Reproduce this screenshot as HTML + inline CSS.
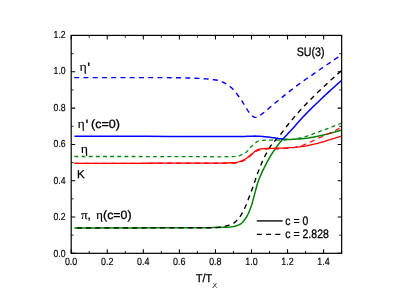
<!DOCTYPE html>
<html><head><meta charset="utf-8"><style>html,body{margin:0;padding:0;background:#fff;overflow:hidden}svg{display:block;will-change:transform}</style></head><body>
<svg width="397" height="304" viewBox="0 0 397 304">
<rect width="397" height="304" fill="#fff"/>
<clipPath id="c"><rect x="71.2" y="35.4" width="270.45" height="217.9"/></clipPath>
<g clip-path="url(#c)" fill="none" stroke-linejoin="round">
<path d="M74.40,227.90 L95.33,227.90 L116.27,227.89 L137.20,227.88 L158.13,227.86 L179.07,227.84 L200.00,227.80 L202.50,227.78 L205.00,227.75 L207.50,227.69 L210.00,227.63 L212.50,227.56 L215.00,227.50 L217.52,227.44 L220.03,227.38 L222.55,227.32 L225.07,227.24 L227.58,227.14 L230.10,227.00 L231.68,226.84 L233.27,226.57 L234.85,226.20 L236.43,225.72 L238.02,225.15 L239.60,224.50 L240.70,223.87 L241.80,222.97 L242.90,221.85 L244.00,220.53 L245.10,219.07 L246.20,217.50 L246.98,216.23 L247.77,214.73 L248.55,213.04 L249.33,211.18 L250.12,209.19 L250.90,207.10 L251.53,205.24 L252.17,203.16 L252.80,200.91 L253.43,198.58 L254.07,196.22 L254.70,193.90 L255.17,192.16 L255.63,190.35 L256.10,188.51 L256.57,186.72 L257.03,185.03 L257.50,183.50 L257.98,182.08 L258.47,180.74 L258.95,179.49 L259.43,178.29 L259.92,177.13 L260.40,176.00 L261.65,173.15 L262.90,170.42 L264.15,167.81 L265.40,165.30 L266.65,162.90 L267.90,160.60 L269.17,158.36 L270.43,156.20 L271.70,154.13 L272.97,152.14 L274.23,150.23 L275.50,148.40 L276.75,146.66 L278.00,144.97 L279.25,143.35 L280.50,141.80 L281.75,140.31 L283.00,138.90 L284.17,139.03 L285.33,139.15 L286.50,139.25 L287.67,139.33 L288.83,139.38 L290.00,139.40 L292.32,139.36 L294.63,139.26 L296.95,139.11 L299.27,138.92 L301.58,138.71 L303.90,138.50 L306.20,138.25 L308.50,137.94 L310.80,137.57 L313.10,137.17 L315.40,136.74 L317.70,136.30 L320.02,135.82 L322.33,135.29 L324.65,134.72 L326.97,134.13 L329.28,133.51 L331.60,132.90 L333.25,132.46 L334.90,132.01 L336.55,131.54 L338.20,131.07 L339.85,130.59 L341.50,130.10" stroke="#008000" stroke-width="1.5"/>
<path d="M74.40,227.90 L95.33,227.90 L116.27,227.89 L137.20,227.88 L158.13,227.86 L179.07,227.84 L200.00,227.80 L202.50,227.79 L205.00,227.77 L207.50,227.75 L210.00,227.71 L212.50,227.66 L215.00,227.60 L216.27,227.53 L217.53,227.41 L218.80,227.24 L220.07,227.04 L221.33,226.82 L222.60,226.60 L224.17,226.32 L225.73,226.00 L227.30,225.64 L228.87,225.21 L230.43,224.70 L232.00,224.10 L233.10,223.54 L234.20,222.79 L235.30,221.89 L236.40,220.86 L237.50,219.72 L238.60,218.50 L239.55,217.31 L240.50,215.92 L241.45,214.37 L242.40,212.67 L243.35,210.87 L244.30,209.00 L245.25,206.97 L246.20,204.73 L247.15,202.33 L248.10,199.84 L249.05,197.31 L250.00,194.80 L250.63,193.14 L251.27,191.47 L251.90,189.78 L252.53,188.05 L253.17,186.30 L253.80,184.50 L254.27,183.12 L254.73,181.67 L255.20,180.21 L255.67,178.75 L256.13,177.33 L256.60,176.00 L257.85,172.62 L259.10,169.36 L260.35,166.23 L261.60,163.24 L262.85,160.43 L264.10,157.80 L265.37,155.28 L266.63,152.87 L267.90,150.58 L269.17,148.42 L270.43,146.43 L271.70,144.60 L272.97,142.97 L274.23,141.51 L275.50,140.15 L276.77,138.82 L278.03,137.46 L279.30,136.00 L280.90,134.00 L282.50,131.91 L284.10,129.77 L285.70,127.62 L287.30,125.52 L288.90,123.50 L291.27,120.63 L293.63,117.83 L296.00,115.09 L298.37,112.40 L300.73,109.77 L303.10,107.20 L305.47,104.68 L307.83,102.22 L310.20,99.81 L312.57,97.44 L314.93,95.11 L317.30,92.80 L320.92,89.32 L324.53,85.90 L328.15,82.54 L331.77,79.23 L335.38,75.99 L339.00,72.80 L339.43,72.42 L339.87,72.05 L340.30,71.69 L340.73,71.33 L341.17,70.96 L341.60,70.60" stroke="#000" stroke-width="1.4" stroke-dasharray="5.0 4.25" stroke-dashoffset="-2.4"/>
<path d="M74.40,163.45 L87.00,163.42 L99.60,163.39 L112.20,163.35 L124.80,163.32 L137.40,163.29 L150.00,163.25 L158.33,163.22 L166.67,163.19 L175.00,163.16 L183.33,163.13 L191.67,163.11 L200.00,163.10 L202.50,163.10 L205.00,163.10 L207.50,163.10 L210.00,163.10 L212.50,163.10 L215.00,163.10 L218.25,163.09 L221.50,163.05 L224.75,162.98 L228.00,162.88 L231.25,162.75 L234.50,162.60 L236.12,162.42 L237.73,162.09 L239.35,161.62 L240.97,161.04 L242.58,160.39 L244.20,159.70 L245.45,159.02 L246.70,158.14 L247.95,157.11 L249.20,156.03 L250.45,154.97 L251.70,154.00 L252.80,153.15 L253.90,152.25 L255.00,151.36 L256.10,150.55 L257.20,149.91 L258.30,149.50 L259.58,149.21 L260.87,148.96 L262.15,148.75 L263.43,148.58 L264.72,148.46 L266.00,148.40 L268.33,148.35 L270.67,148.31 L273.00,148.29 L275.33,148.27 L277.67,148.24 L280.00,148.20 L281.67,148.15 L283.33,148.09 L285.00,148.00 L286.67,147.91 L288.33,147.81 L290.00,147.70 L292.32,147.54 L294.63,147.34 L296.95,147.13 L299.27,146.88 L301.58,146.60 L303.90,146.30 L306.20,145.94 L308.50,145.50 L310.80,144.99 L313.10,144.45 L315.40,143.88 L317.70,143.30 L320.02,142.69 L322.33,142.03 L324.65,141.34 L326.97,140.63 L329.28,139.91 L331.60,139.20 L333.25,138.70 L334.90,138.19 L336.55,137.67 L338.20,137.15 L339.85,136.63 L341.50,136.10" stroke="#f00" stroke-width="1.3"/>
<path d="M74.40,163.45 L87.00,163.42 L99.60,163.39 L112.20,163.35 L124.80,163.32 L137.40,163.29 L150.00,163.25 L158.33,163.22 L166.67,163.19 L175.00,163.16 L183.33,163.13 L191.67,163.11 L200.00,163.10 L202.50,163.10 L205.00,163.11 L207.50,163.12 L210.00,163.13 L212.50,163.14 L215.00,163.15 L218.25,163.16 L221.50,163.17 L224.75,163.18 L228.00,163.19 L231.25,163.20 L234.50,163.20 L236.12,163.09 L237.73,162.80 L239.35,162.35 L240.97,161.79 L242.58,161.16 L244.20,160.50 L245.45,159.85 L246.70,158.99 L247.95,157.99 L249.20,156.92 L250.45,155.87 L251.70,154.90 L252.80,154.05 L253.90,153.13 L255.00,152.22 L256.10,151.39 L257.20,150.73 L258.30,150.30 L259.58,149.99 L260.87,149.72 L262.15,149.49 L263.43,149.31 L264.72,149.18 L266.00,149.10 L268.33,149.02 L270.67,148.97 L273.00,148.94 L275.33,148.91 L277.67,148.87 L280.00,148.80 L281.67,148.73 L283.33,148.62 L285.00,148.49 L286.67,148.35 L288.33,148.18 L290.00,148.00 L291.67,147.80 L293.33,147.55 L295.00,147.27 L296.67,146.95 L298.33,146.60 L300.00,146.20 L301.30,145.83 L302.60,145.38 L303.90,144.87 L305.20,144.32 L306.50,143.76 L307.80,143.20 L309.45,142.48 L311.10,141.73 L312.75,140.95 L314.40,140.16 L316.05,139.37 L317.70,138.60 L320.02,137.53 L322.33,136.48 L324.65,135.42 L326.97,134.36 L329.28,133.29 L331.60,132.20 L333.25,131.42 L334.90,130.62 L336.55,129.83 L338.20,129.02 L339.85,128.21 L341.50,127.40" stroke="#f00" stroke-width="1.2" stroke-dasharray="5.0 4.25"/>
<path d="M74.40,156.50 L95.33,156.50 L116.27,156.51 L137.20,156.52 L158.13,156.54 L179.07,156.56 L200.00,156.60 L202.82,156.62 L205.63,156.66 L208.45,156.70 L211.27,156.75 L214.08,156.79 L216.90,156.80 L220.00,156.79 L223.10,156.76 L226.20,156.70 L229.30,156.63 L232.40,156.53 L235.50,156.40 L237.08,156.22 L238.67,155.85 L240.25,155.32 L241.83,154.67 L243.42,153.91 L245.00,153.10 L246.25,152.22 L247.50,151.01 L248.75,149.59 L250.00,148.11 L251.25,146.70 L252.50,145.50 L253.57,144.57 L254.63,143.60 L255.70,142.67 L256.77,141.86 L257.83,141.25 L258.90,140.90 L260.08,140.70 L261.27,140.53 L262.45,140.39 L263.63,140.29 L264.82,140.22 L266.00,140.20 L268.33,140.20 L270.67,140.20 L273.00,140.20 L275.33,140.20 L277.67,140.20 L280.00,140.20 L281.67,140.18 L283.33,140.11 L285.00,140.01 L286.67,139.89 L288.33,139.75 L290.00,139.60 L292.32,139.34 L294.63,138.99 L296.95,138.57 L299.27,138.08 L301.58,137.56 L303.90,137.00 L306.20,136.37 L308.50,135.63 L310.80,134.80 L313.10,133.93 L315.40,133.05 L317.70,132.20 L320.02,131.36 L322.33,130.51 L324.65,129.64 L326.97,128.77 L329.28,127.89 L331.60,127.00 L333.25,126.36 L334.90,125.72 L336.55,125.07 L338.20,124.42 L339.85,123.76 L341.50,123.10" stroke="#0c860c" stroke-width="1.3" stroke-dasharray="3.9 3.25"/>
<path d="M74.50,136.30 L97.92,136.31 L121.33,136.33 L144.75,136.36 L168.17,136.40 L191.58,136.45 L215.00,136.50 L219.17,136.51 L223.33,136.53 L227.50,136.56 L231.67,136.58 L235.83,136.59 L240.00,136.60 L242.50,136.56 L245.00,136.47 L247.50,136.35 L250.00,136.23 L252.50,136.14 L255.00,136.10 L257.50,136.15 L260.00,136.29 L262.50,136.50 L265.00,136.75 L267.50,137.02 L270.00,137.30 L271.23,137.45 L272.47,137.64 L273.70,137.84 L274.93,138.04 L276.17,138.23 L277.40,138.40 L278.33,138.51 L279.27,138.62 L280.20,138.72 L281.13,138.82 L282.07,138.91 L283.00,139.00 L284.62,137.15 L286.23,135.40 L287.85,133.65 L289.47,131.90 L291.08,130.15 L292.70,128.40 L295.22,125.65 L297.73,122.87 L300.25,120.09 L302.77,117.33 L305.28,114.63 L307.80,112.00 L310.17,109.60 L312.53,107.26 L314.90,104.96 L317.27,102.69 L319.63,100.44 L322.00,98.20 L323.42,96.86 L324.83,95.53 L326.25,94.21 L327.67,92.90 L329.08,91.59 L330.50,90.30 L332.35,88.62 L334.20,86.95 L336.05,85.29 L337.90,83.65 L339.75,82.02 L341.60,80.40" stroke="#00f" stroke-width="1.5"/>
<path d="M74.20,77.60 L86.83,77.60 L99.47,77.60 L112.10,77.60 L124.73,77.60 L137.37,77.60 L150.00,77.60 L155.00,77.61 L160.00,77.63 L165.00,77.66 L170.00,77.70 L175.00,77.75 L180.00,77.80 L182.50,77.84 L185.00,77.89 L187.50,77.95 L190.00,78.03 L192.50,78.11 L195.00,78.20 L196.47,78.26 L197.93,78.33 L199.40,78.41 L200.87,78.50 L202.33,78.60 L203.80,78.70 L205.83,78.85 L207.87,79.02 L209.90,79.21 L211.93,79.43 L213.97,79.69 L216.00,80.00 L217.27,80.25 L218.53,80.59 L219.80,80.99 L221.07,81.45 L222.33,81.96 L223.60,82.50 L224.87,83.12 L226.13,83.84 L227.40,84.66 L228.67,85.57 L229.93,86.55 L231.20,87.60 L232.53,88.84 L233.87,90.26 L235.20,91.82 L236.53,93.49 L237.87,95.23 L239.20,97.00 L240.13,98.29 L241.07,99.67 L242.00,101.10 L242.93,102.56 L243.87,104.04 L244.80,105.50 L245.60,106.79 L246.40,108.14 L247.20,109.50 L248.00,110.82 L248.80,112.04 L249.60,113.10 L250.17,113.78 L250.73,114.45 L251.30,115.07 L251.87,115.64 L252.43,116.12 L253.00,116.50 L253.37,116.71 L253.73,116.92 L254.10,117.11 L254.47,117.26 L254.83,117.36 L255.20,117.40 L255.58,117.38 L255.97,117.34 L256.35,117.28 L256.73,117.19 L257.12,117.10 L257.50,117.00 L258.23,116.72 L258.97,116.29 L259.70,115.76 L260.43,115.17 L261.17,114.57 L261.90,114.00 L263.32,112.92 L264.73,111.78 L266.15,110.59 L267.57,109.39 L268.98,108.19 L270.40,107.00 L272.28,105.43 L274.17,103.85 L276.05,102.27 L277.93,100.69 L279.82,99.13 L281.70,97.60 L284.75,95.15 L287.80,92.73 L290.85,90.33 L293.90,87.98 L296.95,85.66 L300.00,83.40 L301.93,82.00 L303.87,80.64 L305.80,79.29 L307.73,77.96 L309.67,76.63 L311.60,75.30 L316.32,72.04 L321.03,68.78 L325.75,65.54 L330.47,62.32 L335.18,59.14 L339.90,56.00 L340.18,55.81 L340.47,55.63 L340.75,55.45 L341.03,55.26 L341.32,55.08 L341.60,54.90" stroke="#00f" stroke-width="1.4" stroke-dasharray="5.0 4.25"/>
</g>
<rect x="71.2" y="35.4" width="270.45" height="217.9" fill="none" stroke="#000" stroke-width="1.2"/>
<path d="M71.20,253.3 v-4 M71.20,35.4 v4 M107.26,253.3 v-4 M107.26,35.4 v4 M143.32,253.3 v-4 M143.32,35.4 v4 M179.38,253.3 v-4 M179.38,35.4 v4 M215.44,253.3 v-4 M215.44,35.4 v4 M251.50,253.3 v-4 M251.50,35.4 v4 M287.56,253.3 v-4 M287.56,35.4 v4 M323.62,253.3 v-4 M323.62,35.4 v4 M71.2,253.30 h4 M341.65,253.30 h-4 M71.2,217.00 h4 M341.65,217.00 h-4 M71.2,180.70 h4 M341.65,180.70 h-4 M71.2,144.40 h4 M341.65,144.40 h-4 M71.2,108.10 h4 M341.65,108.10 h-4 M71.2,71.80 h4 M341.65,71.80 h-4 M71.2,35.50 h4 M341.65,35.50 h-4" stroke="#000" stroke-width="1.05" fill="none"/>
<path d="M89.23,253.3 v-2.4 M89.23,35.4 v2.4 M125.29,253.3 v-2.4 M125.29,35.4 v2.4 M161.35,253.3 v-2.4 M161.35,35.4 v2.4 M197.41,253.3 v-2.4 M197.41,35.4 v2.4 M233.47,253.3 v-2.4 M233.47,35.4 v2.4 M269.53,253.3 v-2.4 M269.53,35.4 v2.4 M305.59,253.3 v-2.4 M305.59,35.4 v2.4 M341.65,253.3 v-2.4 M341.65,35.4 v2.4 M71.2,235.15 h2.4 M341.65,235.15 h-2.4 M71.2,198.85 h2.4 M341.65,198.85 h-2.4 M71.2,162.55 h2.4 M341.65,162.55 h-2.4 M71.2,126.25 h2.4 M341.65,126.25 h-2.4 M71.2,89.95 h2.4 M341.65,89.95 h-2.4 M71.2,53.65 h2.4 M341.65,53.65 h-2.4" stroke="#000" stroke-width="0.85" fill="none"/>
<g transform="rotate(0.02)" style="text-rendering:geometricPrecision">
<text x="65.0" y="265.2" font-size="10.4" style="font-family:&quot;Liberation Sans&quot;,sans-serif" textLength="12.4" lengthAdjust="spacingAndGlyphs" stroke="#000" stroke-width="0.18">0.0</text>
<text x="101.06" y="265.2" font-size="10.4" style="font-family:&quot;Liberation Sans&quot;,sans-serif" textLength="12.4" lengthAdjust="spacingAndGlyphs" stroke="#000" stroke-width="0.18">0.2</text>
<text x="137.12" y="265.2" font-size="10.4" style="font-family:&quot;Liberation Sans&quot;,sans-serif" textLength="12.4" lengthAdjust="spacingAndGlyphs" stroke="#000" stroke-width="0.18">0.4</text>
<text x="173.18" y="265.2" font-size="10.4" style="font-family:&quot;Liberation Sans&quot;,sans-serif" textLength="12.4" lengthAdjust="spacingAndGlyphs" stroke="#000" stroke-width="0.18">0.6</text>
<text x="209.24" y="265.2" font-size="10.4" style="font-family:&quot;Liberation Sans&quot;,sans-serif" textLength="12.4" lengthAdjust="spacingAndGlyphs" stroke="#000" stroke-width="0.18">0.8</text>
<text x="245.3" y="265.2" font-size="10.4" style="font-family:&quot;Liberation Sans&quot;,sans-serif" textLength="12.4" lengthAdjust="spacingAndGlyphs" stroke="#000" stroke-width="0.18">1.0</text>
<text x="281.36" y="265.2" font-size="10.4" style="font-family:&quot;Liberation Sans&quot;,sans-serif" textLength="12.4" lengthAdjust="spacingAndGlyphs" stroke="#000" stroke-width="0.18">1.2</text>
<text x="317.42" y="265.2" font-size="10.4" style="font-family:&quot;Liberation Sans&quot;,sans-serif" textLength="12.4" lengthAdjust="spacingAndGlyphs" stroke="#000" stroke-width="0.18">1.4</text>
<text x="53.6" y="256.5" font-size="10.1" style="font-family:&quot;Liberation Sans&quot;,sans-serif" textLength="12.1" lengthAdjust="spacingAndGlyphs" stroke="#000" stroke-width="0.18">0.0</text>
<text x="53.6" y="220.09" font-size="10.1" style="font-family:&quot;Liberation Sans&quot;,sans-serif" textLength="12.1" lengthAdjust="spacingAndGlyphs" stroke="#000" stroke-width="0.18">0.2</text>
<text x="53.6" y="183.68" font-size="10.1" style="font-family:&quot;Liberation Sans&quot;,sans-serif" textLength="12.1" lengthAdjust="spacingAndGlyphs" stroke="#000" stroke-width="0.18">0.4</text>
<text x="53.6" y="147.28" font-size="10.1" style="font-family:&quot;Liberation Sans&quot;,sans-serif" textLength="12.1" lengthAdjust="spacingAndGlyphs" stroke="#000" stroke-width="0.18">0.6</text>
<text x="53.6" y="110.87" font-size="10.1" style="font-family:&quot;Liberation Sans&quot;,sans-serif" textLength="12.1" lengthAdjust="spacingAndGlyphs" stroke="#000" stroke-width="0.18">0.8</text>
<text x="53.6" y="74.46" font-size="10.1" style="font-family:&quot;Liberation Sans&quot;,sans-serif" textLength="12.1" lengthAdjust="spacingAndGlyphs" stroke="#000" stroke-width="0.18">1.0</text>
<text x="53.6" y="38.05" font-size="10.1" style="font-family:&quot;Liberation Sans&quot;,sans-serif" textLength="12.1" lengthAdjust="spacingAndGlyphs" stroke="#000" stroke-width="0.18">1.2</text>
<text x="296.7" y="55.5" font-size="12.3" style="font-family:&quot;Liberation Sans&quot;,sans-serif" textLength="27.9" lengthAdjust="spacingAndGlyphs" stroke="#000" stroke-width="0.3">SU(3)</text>
<text x="79.6" y="71.2" font-size="13" style="font-family:&quot;Liberation Serif&quot;,serif" textLength="7.3" lengthAdjust="spacingAndGlyphs" stroke="#000" stroke-width="0.1">η</text>
<text x="87.3" y="73.1" font-size="15" style="font-family:&quot;Liberation Sans&quot;,sans-serif" stroke="#000" stroke-width="0.3">'</text>
<text x="77.6" y="128.3" font-size="13" style="font-family:&quot;Liberation Serif&quot;,serif" textLength="7.3" lengthAdjust="spacingAndGlyphs" stroke="#000" stroke-width="0.1">η</text>
<text x="85.5" y="130.1" font-size="15" style="font-family:&quot;Liberation Sans&quot;,sans-serif" stroke="#000" stroke-width="0.3">'</text>
<text x="91.1" y="128.4" font-size="12" style="font-family:&quot;Liberation Sans&quot;,sans-serif" textLength="28.96" lengthAdjust="spacingAndGlyphs" stroke="#000" stroke-width="0.3">(c=0)</text>
<text x="80.7" y="153.1" font-size="13" style="font-family:&quot;Liberation Serif&quot;,serif" textLength="7.3" lengthAdjust="spacingAndGlyphs" stroke="#000" stroke-width="0.1">η</text>
<text x="77.0" y="177.6" font-size="11.4" style="font-family:&quot;Liberation Sans&quot;,sans-serif" stroke="#000" stroke-width="0.3">K</text>
<text x="81.1" y="218.9" font-size="12.3" style="font-family:&quot;Liberation Serif&quot;,serif" textLength="6.7" lengthAdjust="spacingAndGlyphs" stroke="#000" stroke-width="0.1">π</text>
<text x="87.7" y="218.9" font-size="12" style="font-family:&quot;Liberation Sans&quot;,sans-serif" stroke="#000" stroke-width="0.3">,</text>
<text x="96.2" y="218.9" font-size="12.5" style="font-family:&quot;Liberation Serif&quot;,serif" textLength="7.0" lengthAdjust="spacingAndGlyphs" stroke="#000" stroke-width="0.1">η</text>
<text x="103.2" y="218.9" font-size="12" style="font-family:&quot;Liberation Sans&quot;,sans-serif" textLength="28.4" lengthAdjust="spacingAndGlyphs" stroke="#000" stroke-width="0.3">(c=0)</text>
<text x="285.4" y="224.8" font-size="12.2" style="font-family:&quot;Liberation Sans&quot;,sans-serif" textLength="22.9" lengthAdjust="spacingAndGlyphs" stroke="#000" stroke-width="0.3">c = 0</text>
<text x="285.4" y="238.3" font-size="12.2" style="font-family:&quot;Liberation Sans&quot;,sans-serif" textLength="43.5" lengthAdjust="spacingAndGlyphs" stroke="#000" stroke-width="0.3">c = 2.828</text>
<text x="196" y="282.4" font-size="11.4" style="font-family:&quot;Liberation Sans&quot;,sans-serif" textLength="16.0" lengthAdjust="spacingAndGlyphs" stroke="#000" stroke-width="0.3">T/T</text>
<text x="212.7" y="286.1" font-size="6.7" style="font-family:&quot;Liberation Serif&quot;,serif" textLength="4.6" lengthAdjust="spacingAndGlyphs" stroke="#000" stroke-width="0">χ</text>
</g>
<path d="M256.8,220.9 H282.7" stroke="#000" stroke-width="1.35"/>
<path d="M256.8,234.4 H282.7" stroke="#000" stroke-width="1.35" stroke-dasharray="5.0 4.25"/>
</svg>
</body></html>
